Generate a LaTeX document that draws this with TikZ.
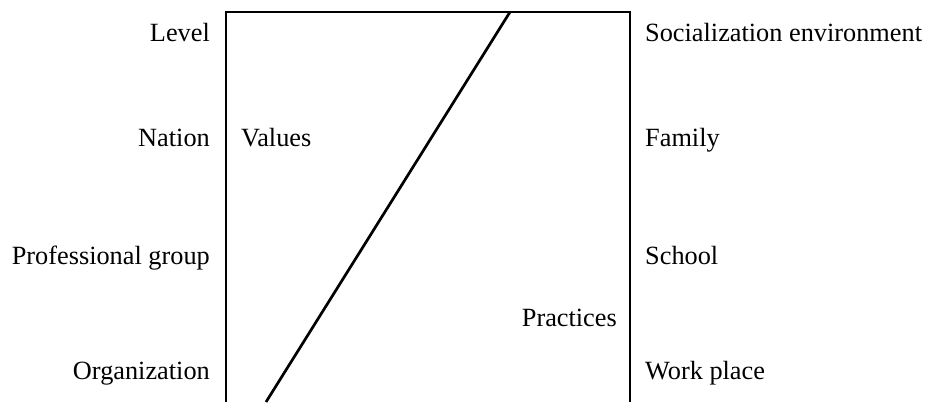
\documentclass[tikz,border=0pt]{standalone}
\usepackage{fontspec}
\setmainfont{Liberation Serif}
\begin{document}
\begin{tikzpicture}[x=1pt,y=1pt,
  lbl/.style={font=\fontsize{26.3}{31}\selectfont, inner sep=0pt},
  leftlbl/.style={lbl, anchor=base east},
  rightlbl/.style={lbl, anchor=base west},
  frame/.style={line width=2.7pt, line join=miter}]
  % page extent
  \path[use as bounding box] (0,0) rectangle (927,402);
  % open-bottomed frame and the dividing diagonal
  \draw[frame] (226,0) -- (226,390) -- (630,390) -- (630,0);
  \draw[frame] (266,0) -- (510,390);
  % level column
  \node[leftlbl] (level) at (210,360) {Level};
  \node[leftlbl] (nation) at (210,255) {Nation};
  \node[leftlbl] (prof) at (210,137) {Professional group};
  \node[leftlbl] (org) at (210,23) {Organization};
  % inside the frame
  \node[lbl, anchor=base west] (values) at (241,255) {Values};
  \node[lbl, anchor=base east] (practices) at (617,75) {Practices};
  % socialization column
  \node[rightlbl] (soc) at (645,360) {Socialization environment};
  \node[rightlbl] (family) at (645,255) {Family};
  \node[rightlbl] (school) at (645,137) {School};
  \node[rightlbl] (work) at (645,23) {Work place};
\end{tikzpicture}
\end{document}
